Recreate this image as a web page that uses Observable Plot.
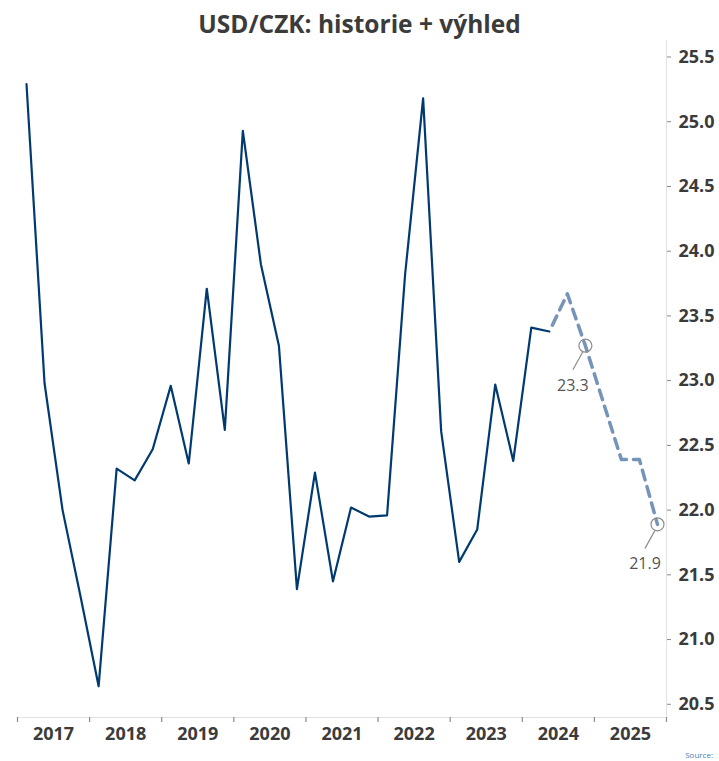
<!DOCTYPE html>
<html>
<head>
<meta charset="utf-8">
<script src="https://cdn.jsdelivr.net/npm/d3@7"></script>
<script src="https://cdn.jsdelivr.net/npm/@observablehq/plot@0.6"></script>
<style>
  body { margin: 0; background: #fff; font-family: "Open Sans", sans-serif; }
  #wrap { position: relative; width: 719px; height: 761px; overflow: hidden; }
  #title { position: absolute; left: 0; top: 7px; width: 719px; text-align: center;
           font-weight: 700; font-size: 24.5px; color: #3b3b3b; white-space: nowrap; }
  #chart { position: absolute; left: 0; top: 40px; }
  #source { position: absolute; right: 6px; top: 749px; font-size: 8px; color: #4f7db5; }
</style>
</head>
<body>
<div id="wrap">
  <div id="title">USD/CZK: historie + výhled</div>
  <div id="chart"></div>
  <div id="source">Source:</div>
</div>
<script>
// ---- data ----
const yearLabels = ["2017", "2018", "2019", "2020", "2021", "2022", "2023", "2024", "2025"];
const yTickValues = [20.5, 21.0, 21.5, 22.0, 22.5, 23.0, 23.5, 24.0, 24.5, 25.0, 25.5];

// quarterly history, 2017 Q1 .. 2024 Q2
const histStartYear = 2017;
const histValues = [
  25.29, 22.98, 22.00, 21.33,
  20.64, 22.32, 22.23, 22.47,
  22.96, 22.36, 23.71, 22.62,
  24.93, 23.90, 23.27, 21.39,
  22.29, 21.45, 22.02, 21.95,
  21.96, 23.82, 25.18, 22.61,
  21.60, 21.85, 22.97, 22.38,
  23.41, 23.38
];

// forecast, 2024 Q2 .. 2025 Q4
const fcStartYear = 2024, fcStartQuarter = 2;
const fcValues = [23.38, 23.67, 23.27, 22.83, 22.39, 22.39, 21.89];

// highlighted forecast points
const annQuarters = ["2024 Q4", "2025 Q4"];
const annValues = [23.27, 21.89];
const annLabels = ["23.3", "21.9"];

// ---- helpers ----
const qx = (year, q) => year + (q - 0.5) / 4;
const parseQ = s => { const [y, q] = s.split(" Q"); return qx(+y, +q); };

const hist = histValues.map((v, i) => ({x: qx(histStartYear + Math.floor(i / 4), (i % 4) + 1), v}));
const fc = fcValues.map((v, i) => {
  const k = fcStartQuarter - 1 + i;
  return {x: qx(fcStartYear + Math.floor(k / 4), (k % 4) + 1), v};
});
const ann = annQuarters.map((q, i) => ({x: parseQ(q), v: annValues[i], label: annLabels[i]}));

const firstYear = +yearLabels[0];
const lastYear = +yearLabels[yearLabels.length - 1] + 1;
const boundaryTicks = d3.range(firstYear, lastYear + 1);
const labelTicks = yearLabels.map(y => +y + 0.5);

const yDomain = [20.398, 25.6275];

const chart = Plot.plot({
  width: 719,
  height: 721,
  marginTop: 0,
  marginLeft: 17,
  marginRight: 53,
  marginBottom: 44,
  x: {domain: [firstYear, lastYear], label: null},
  y: {domain: yDomain, label: null},
  style: {fontFamily: "Open Sans, sans-serif", background: "#fff"},
  marks: [
    Plot.ruleX([lastYear], {stroke: "#e2e2e2", strokeWidth: 1}),
    Plot.ruleY([yDomain[0]], {stroke: "#e2e2e2", strokeWidth: 1}),
    Plot.axisX({ticks: boundaryTicks, tickFormat: () => "", tickSize: 5, stroke: "#8a8a8a", strokeWidth: 1.2, label: null}),
    Plot.axisX({ticks: labelTicks, tickFormat: d => yearLabels[Math.round(d - 0.5) - firstYear],
                tickSize: 0, tickPadding: 10, fontSize: 18, fontWeight: "bold", fill: "#3b3b3b", label: null}),
    Plot.axisY({anchor: "right", ticks: yTickValues, tickFormat: d3.format(".1f"), tickSize: 4, tickPadding: 8,
                stroke: "#8a8a8a", fontSize: 18, fontWeight: "bold", fill: "#3b3b3b", label: null}),
    Plot.line(fc, {x: "x", y: "v", stroke: "#7693b8", strokeWidth: 3.5, strokeDasharray: "10,7", strokeDashoffset: 10}),
    Plot.line(hist, {x: "x", y: "v", stroke: "#003a70", strokeWidth: 2.2}),
    Plot.dot(ann, {
      x: "x", y: "v", r: 6.5, stroke: "#8c8c8c", strokeWidth: 1.2, fill: "none",
      render(index, scales, values, dimensions, context, next) {
        const g = next(index, scales, values, dimensions, context);
        for (const i of index) {
          const cx = values.x[i], cy = values.y[i];
          const line = document.createElementNS("http://www.w3.org/2000/svg", "line");
          line.setAttribute("x1", cx - 2.5); line.setAttribute("y1", cy + 6);
          line.setAttribute("x2", cx - 12.5); line.setAttribute("y2", cy + 24);
          line.setAttribute("stroke", "#8c8c8c"); line.setAttribute("stroke-width", 1.2);
          g.appendChild(line);
        }
        return g;
      }
    }),
    Plot.text(ann, {x: "x", y: "v", text: "label", dx: -12.5, dy: 40, fontSize: 16, fill: "#555"})
  ]
});
document.getElementById("chart").appendChild(chart);
</script>
</body>
</html>
